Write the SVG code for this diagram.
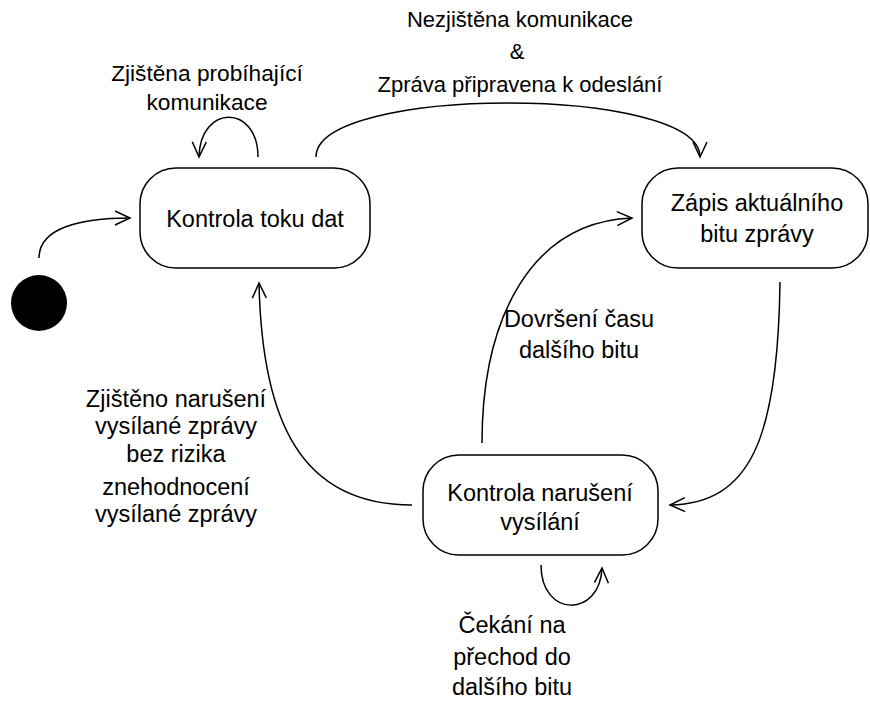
<svg xmlns="http://www.w3.org/2000/svg" width="870" height="705" viewBox="0 0 870 705">
<defs>
<style>
.node{fill:#fff;stroke:#000;stroke-width:1.5}
.t{font-family:"Liberation Sans",Arial,sans-serif;font-size:23.5px;fill:#000;text-anchor:middle}
.s{font-size:22px}
.m{font-size:22.7px}
.e{fill:none;stroke:#000;stroke-width:1.5;marker-end:url(#arr)}
</style>
<marker id="arr" markerUnits="userSpaceOnUse" markerWidth="20" markerHeight="20" viewBox="-17 -10 20 20" refX="0" refY="0" orient="auto">
<path d="M-15,-7 L0,0 L-15,7" fill="none" stroke="#000" stroke-width="1.5"/>
</marker>
</defs>
<rect width="870" height="705" fill="#fff"/>
<g id="connectors">
<path class="e" d="M39,258 C39,228 80,218 130,218"/>
<path class="e" d="M258,157 C258,104 200,104 199,157"/>
<path class="e" d="M316,157 C316,85 700,85 700,157"/>
<path class="e" d="M482,443 C482,320 530,222 632,218"/>
<path class="e" d="M780,282 C778,440 750,503 670,505"/>
<path class="e" d="M412,505 C300,505 262,420 259,283"/>
<path class="e" d="M541,565 C541,618 600,618 602,568"/>
</g>
<g id="labels">
<text class="t m" x="207" y="81">Zjištěna probíhající</text>
<text class="t m" x="207" y="110">komunikace</text>
<text class="t s" x="520" y="27">Nezjištěna komunikace</text>
<text class="t s" x="517" y="59">&amp;</text>
<text class="t s" x="520" y="92">Zpráva připravena k odeslání</text>
<text class="t" x="579" y="327">Dovršení času</text>
<text class="t" x="579" y="358">dalšího bitu</text>
<text class="t" x="176" y="407">Zjištěno narušení</text>
<text class="t" x="176" y="434">vysílané zprávy</text>
<text class="t" x="176" y="462">bez rizika</text>
<text class="t" x="176" y="495">znehodnocení</text>
<text class="t" x="176" y="522">vysílané zprávy</text>
<text class="t" x="512" y="633">Čekání na</text>
<text class="t" x="512" y="665">přechod do</text>
<text class="t" x="512" y="695">dalšího bitu</text>
</g>
<g id="start">
<circle cx="39" cy="303" r="28" fill="#000"/>
</g>
<g id="kontrola-toku-dat">
<rect class="node" x="140" y="168" width="230" height="100" rx="36" ry="36"/>
<text class="t" x="255" y="227">Kontrola toku dat</text>
</g>
<g id="zapis-bitu">
<rect class="node" x="642" y="168" width="226" height="100" rx="36" ry="36"/>
<text class="t" x="757" y="211">Zápis aktuálního</text>
<text class="t" x="757" y="242">bitu zprávy</text>
</g>
<g id="kontrola-naruseni">
<rect class="node" x="423" y="455" width="235" height="100" rx="36" ry="36"/>
<text class="t" x="540" y="501">Kontrola narušení</text>
<text class="t" x="540" y="530">vysílání</text>
</g>
</svg>
